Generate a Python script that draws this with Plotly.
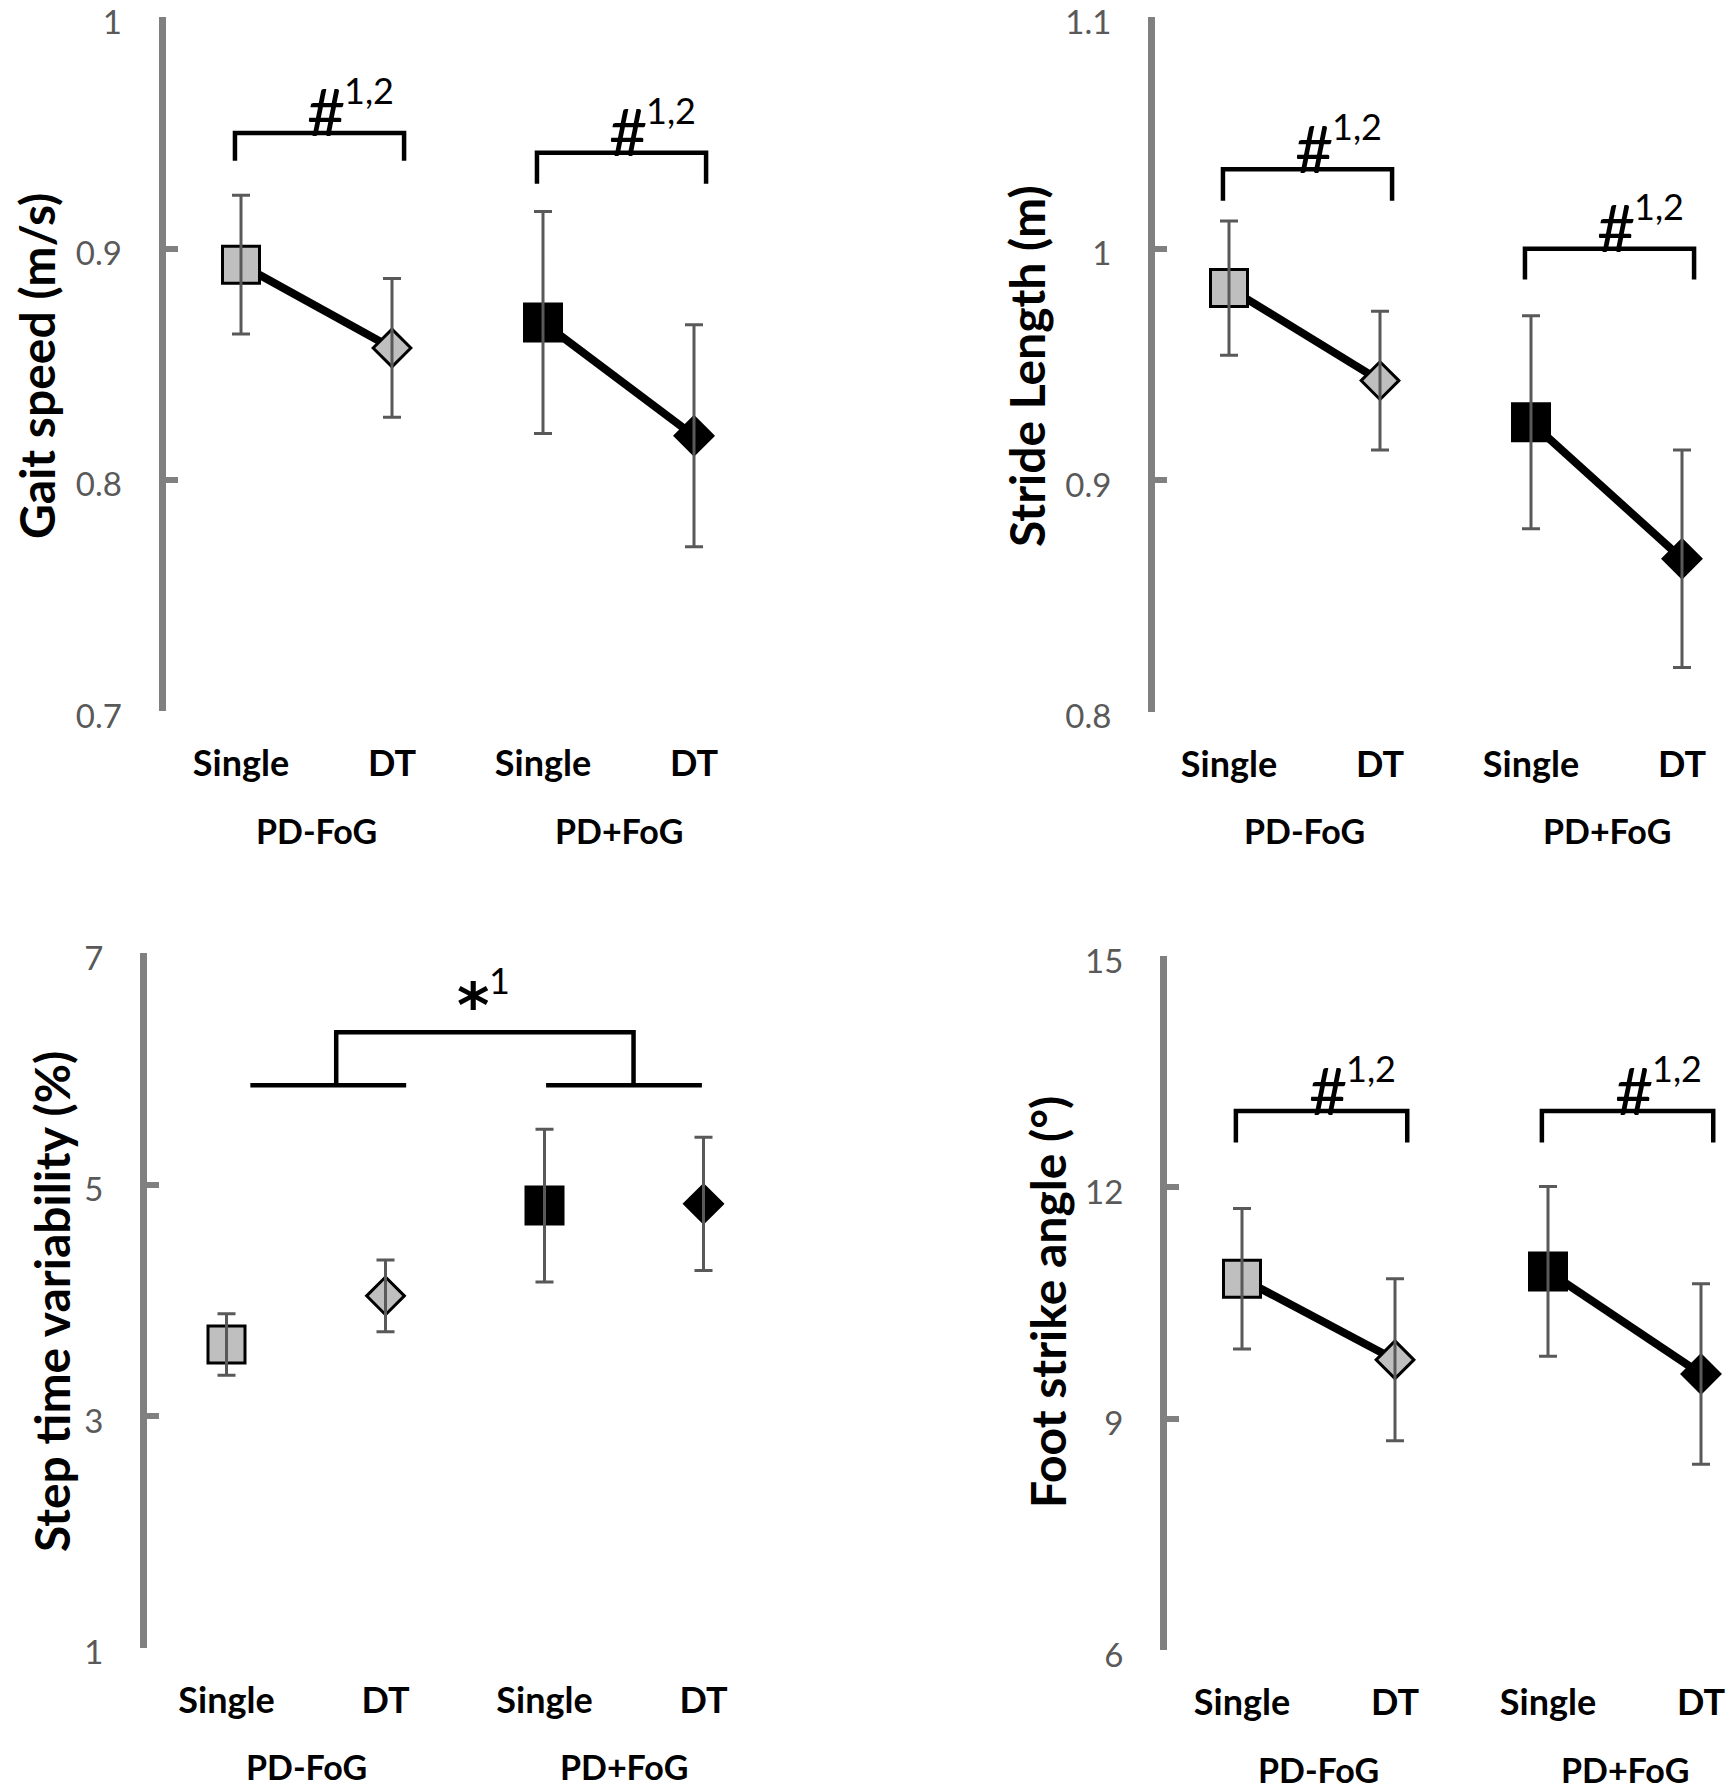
import plotly.graph_objects as go

# ---------------- data ----------------
categories = ["Single", "DT", "Single", "DT"]
groups = ["PD-FoG", "PD+FoG"]

gait_mean = [0.893, 0.857, 0.868, 0.819]
gait_err = [0.030, 0.030, 0.048, 0.048]
stride_mean = [0.983, 0.943, 0.925, 0.866]
stride_err = [0.029, 0.030, 0.046, 0.047]
stv_mean = [3.62, 4.04, 4.82, 4.835]
stv_err = [0.265, 0.31, 0.66, 0.575]
fsa_mean = [10.815, 9.763, 10.91, 9.58]
fsa_err = [0.91, 1.05, 1.10, 1.17]

gait_ticks = [0.7, 0.8, 0.9, 1.0]
gait_ticktext = ["0.7", "0.8", "0.9", "1"]
stride_ticks = [0.8, 0.9, 1.0, 1.1]
stride_ticktext = ["0.8", "0.9", "1", "1.1"]
stv_ticks = [1, 3, 5, 7]
stv_ticktext = ["1", "3", "5", "7"]
fsa_ticks = [6, 9, 12, 15]
fsa_ticktext = ["6", "9", "12", "15"]

titles = ["Gait speed (m/s)", "Stride Length (m)", "Step time variability (%)", "Foot strike angle (°)"]

# significance brackets (pairwise #): top level, end level
gait_br_top = [0.950, 0.9414]
gait_br_end = [0.938, 0.928]
stride_br_top = [1.0343, 1.0]
stride_br_end = [1.0207, 0.9867]
fsa_br_top = [12.99, 12.99]
fsa_br_end = [12.58, 12.58]
# group comparison bracket (*) in step time variability
stv_br_low = 5.86
stv_br_high = 6.317
hash_label = "#"
hash_sup = "1,2"
star_label = "*"
star_sup = "1"

# ---------------- layout geometry ----------------
W, H = 1731, 1789
FONT = "Lato"
GRAY_FILL = "#bfbfbf"
AXIS_GRAY = "#808080"
TICK_GRAY = "#595959"
ERR_GRAY = "#595959"

panels = [
    dict(L=165.5, P0=241, S=151, R=790, top=17.3, bot=711.0, yr=[0.7, 1.0],
         mean=gait_mean, err=gait_err, ticks=gait_ticks, tt=gait_ticktext, line=True,
         tx=36, ty=366),
    dict(L=1155, P0=1229, S=151, R=1731, top=17.3, bot=711.5, yr=[0.8, 1.1],
         mean=stride_mean, err=stride_err, ticks=stride_ticks, tt=stride_ticktext, line=True,
         tx=1026, ty=366),
    dict(L=147, P0=226.5, S=159, R=800, top=953.3, bot=1647.7, yr=[1, 7],
         mean=stv_mean, err=stv_err, ticks=stv_ticks, tt=stv_ticktext, line=False,
         tx=51, ty=1302),
    dict(L=1167, P0=1242, S=153, R=1731, top=956, bot=1650, yr=[6, 15],
         mean=fsa_mean, err=fsa_err, ticks=fsa_ticks, tt=fsa_ticktext, line=True,
         tx=1047, ty=1302),
]

fig = go.Figure()
layout = dict(width=W, height=H, margin=dict(l=0, r=0, t=0, b=0, autoexpand=False),
              paper_bgcolor="white", plot_bgcolor="white", showlegend=False)
annotations = []
shapes = []

for k, p in enumerate(panels):
    n = "" if k == 0 else str(k + 1)
    xa, ya = "x" + n, "y" + n
    span = p["yr"][1] - p["yr"][0]
    layout["xaxis" + n] = dict(
        domain=[p["L"] / W, p["R"] / W],
        range=[(p["L"] - p["P0"]) / p["S"], (p["R"] - p["P0"]) / p["S"]],
        anchor=ya, showline=False, showgrid=False, zeroline=False,
        tickmode="array", tickvals=[0, 1, 2, 3], ticktext=categories,
        ticks="", ticklabelstandoff=28, automargin=False, ticklabeloverflow="allow",
        tickfont=dict(family=FONT, size=36, color="black", weight="bold"),
    )
    layout["yaxis" + n] = dict(
        domain=[1 - p["bot"] / H, 1 - p["top"] / H],
        range=[p["yr"][0] - span * 1e-5, p["yr"][1] + span * 1e-5], anchor=xa, automargin=False,
        showline=True, linecolor=AXIS_GRAY, linewidth=7,
        showgrid=False, zeroline=False,
        tickmode="array", tickvals=p["ticks"], ticktext=p["tt"],
        ticks="inside", ticklen=12, tickwidth=6, tickcolor=AXIS_GRAY,
        ticklabelstandoff=30, ticklabelshift=5, ticklabeloverflow="allow",
        tickfont=dict(family=FONT, size=33, color=TICK_GRAY),
    )
    m, e = p["mean"], p["err"]
    for g in range(2):
        xs = [2 * g, 2 * g + 1]
        fill = GRAY_FILL if g == 0 else "black"
        fig.add_trace(go.Scatter(
            x=xs, y=m[2 * g:2 * g + 2], xaxis=xa, yaxis=ya,
            mode="lines+markers" if p["line"] else "markers",
            line=dict(color="black", width=8),
            marker=dict(symbol=["square", "diamond"], size=[37, 29], color=fill, opacity=1,
                        line=dict(color="black", width=3)),
            cliponaxis=False, hoverinfo="skip"))
        fig.add_trace(go.Scatter(
            x=xs, y=m[2 * g:2 * g + 2], xaxis=xa, yaxis=ya, mode="markers",
            marker=dict(size=1, color="rgba(0,0,0,0)", opacity=1),
            error_y=dict(type="data", array=e[2 * g:2 * g + 2], color=ERR_GRAY,
                         thickness=3, width=9),
            cliponaxis=False, hoverinfo="skip"))
    for g, name in enumerate(groups):
        annotations.append(dict(
            x=2 * g + 0.5, xref=xa, y=1 - (p["bot"] + 119) / H, yref="paper",
            text=name, showarrow=False, xanchor="center", yanchor="middle",
            font=dict(family=FONT, size=34, color="black", weight="bold")))
    annotations.append(dict(
        x=p["tx"] / W, xref="paper", y=1 - p["ty"] / H, yref="paper",
        text=titles[k], textangle=-90, showarrow=False,
        xanchor="center", yanchor="middle",
        font=dict(family=FONT, size=48, color="black", weight="bold")))

br_sets = [(0, gait_br_top, gait_br_end), (1, stride_br_top, stride_br_end), (3, fsa_br_top, fsa_br_end)]
for k, tops, ends in br_sets:
    n = "" if k == 0 else str(k + 1)
    xa, ya = "x" + n, "y" + n
    for g in range(2):
        x0, x1 = 2 * g - 0.04, 2 * g + 1.08
        shapes.append(dict(
            type="path", xref=xa, yref=ya,
            path=f"M {x0},{ends[g]} L {x0},{tops[g]} L {x1},{tops[g]} L {x1},{ends[g]}",
            line=dict(color="black", width=4.5)))
        xm = (x0 + x1) / 2
        annotations.append(dict(
            x=xm, xref=xa, y=tops[g], yref=ya, text=hash_label, showarrow=False,
            xanchor="center", yanchor="middle", xshift=6, yshift=22,
            font=dict(family=FONT, size=66, color="black")))
        annotations.append(dict(
            x=xm, xref=xa, y=tops[g], yref=ya, text=hash_sup, showarrow=False,
            xanchor="left", yanchor="middle", xshift=22, yshift=43,
            font=dict(family=FONT, size=36, color="black")))

xa, ya = "x3", "y3"
for a, b in [(0.15, 1.13), (2.01, 2.99)]:
    shapes.append(dict(type="line", xref=xa, yref=ya, x0=a, x1=b, y0=stv_br_low, y1=stv_br_low,
                       line=dict(color="black", width=4.5)))
shapes.append(dict(type="path", xref=xa, yref=ya,
                   path=f"M 0.69,{stv_br_low} L 0.69,{stv_br_high} L 2.56,{stv_br_high} L 2.56,{stv_br_low}",
                   line=dict(color="black", width=4.5)))
xm = (0.69 + 2.56) / 2
annotations.append(dict(x=xm, xref=xa, y=stv_br_high, yref=ya, text=star_label, showarrow=False,
                        xanchor="center", yanchor="middle", xshift=-12, yshift=27,
                        font=dict(family="DejaVu Sans", size=62, color="black", weight="bold")))
annotations.append(dict(x=xm, xref=xa, y=stv_br_high, yref=ya, text=star_sup, showarrow=False,
                        xanchor="left", yanchor="middle", xshift=2, yshift=52,
                        font=dict(family=FONT, size=36, color="black")))

layout["annotations"] = annotations
layout["shapes"] = shapes
fig.update_layout(**layout)
fig.write_html("out.html", config={"displayModeBar": False},
               post_script="document.body.style.margin='0';document.body.style.overflow='hidden';")
